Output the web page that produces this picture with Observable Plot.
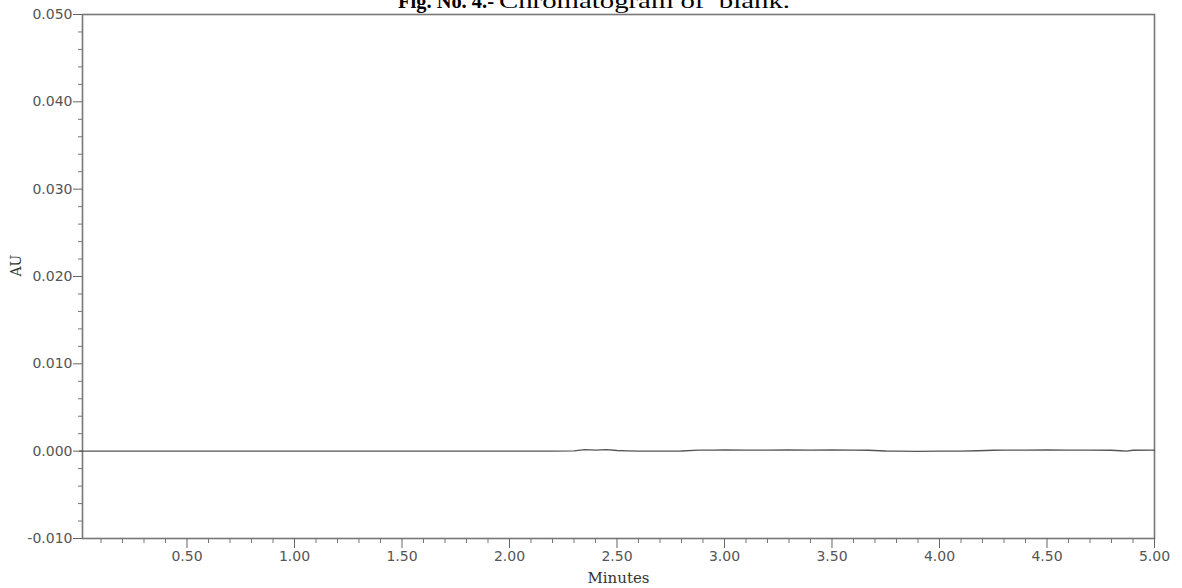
<!DOCTYPE html>
<html>
<head>
<meta charset="utf-8">
<script src="https://cdn.jsdelivr.net/npm/d3@7"></script>
<script src="https://cdn.jsdelivr.net/npm/@observablehq/plot@0.6"></script>
<style>
  html, body { margin: 0; padding: 0; background: #fff; overflow: hidden; }
  #wrap { position: relative; width: 1182px; height: 588px; }
  #title { position: absolute; left: 0; top: 0; z-index: 0; }
  #chart { position: absolute; left: 0; top: 0; z-index: 1; }
  #chart svg { background: transparent !important; }
</style>
</head>
<body>
<div id="wrap">
  <svg id="title" width="1182" height="20" xmlns="http://www.w3.org/2000/svg">
    <text x="398" y="8" font-family="Liberation Serif, Times New Roman, serif" font-size="22" font-weight="bold"
      textLength="96" lengthAdjust="spacingAndGlyphs" fill="#000">Fig. No. 4.-</text>
    <text x="499" y="8" font-family="Liberation Serif, Times New Roman, serif" font-size="21"
      textLength="291" lengthAdjust="spacingAndGlyphs" fill="#000" xml:space="preserve">Chromatogram of  blank.</text>
  </svg>
  <div id="chart"></div>
</div>
<script>
// Chromatogram of blank: retention time (minutes) vs absorbance (AU)
const times = [0.0, 0.1, 0.2, 0.3, 0.4, 0.5, 0.6, 0.7, 0.8, 0.9, 1.0, 1.1, 1.2, 1.3, 1.4, 1.5, 1.6, 1.7, 1.8, 1.9, 2.0,
  2.1, 2.2, 2.3, 2.35, 2.4, 2.45, 2.5, 2.55, 2.6, 2.7, 2.8, 2.88, 2.95, 3.0, 3.1, 3.2, 3.3, 3.4, 3.5, 3.6, 3.67,
  3.75, 3.8, 3.9, 4.0, 4.1, 4.18, 4.25, 4.3, 4.4, 4.5, 4.6, 4.7, 4.8, 4.84, 4.87, 4.9, 5.0];
const absorbance = [0, 0, 0, 0, 0, 0, 0, 0, 0, 0, 0, 0, 0, 0, 0, 0, 0, 0, 0, 0, 0,
  0, 0, 0.00003, 0.00018, 0.00012, 0.00018, 0.00008, 0.00003, 0, 0, 0.00002, 0.00012, 0.00012, 0.00013, 0.00012, 0.00012, 0.00013, 0.00012, 0.00013, 0.00012, 0.0001,
  0.00002, 0, -0.00002, 0, 0, 0.00004, 0.00011, 0.00012, 0.00012, 0.00013, 0.00012, 0.00012, 0.00011, 0.00004, 0.0, 0.0001, 0.00012];

const xMajorTicks = [0.5, 1.0, 1.5, 2.0, 2.5, 3.0, 3.5, 4.0, 4.5, 5.0];
const yMajorTicks = [-0.01, 0.0, 0.01, 0.02, 0.03, 0.04, 0.05];
const xLabel = "Minutes";
const yLabel = "AU";

const data = times.map((t, i) => ({t, v: absorbance[i]}));
const xMinorTicks = d3.range(1, 50).map(k => k / 10).filter(v => Math.abs(v * 2 - Math.round(v * 2)) > 1e-6);
const yMinorTicks = d3.range(-5, 26).map(k => k * 0.002).filter(v => Math.abs(v * 100 - Math.round(v * 100)) > 1e-6);

const tickFont = {fontFamily: "DejaVu Sans", fontSize: 14, fill: "#555"};
const blank = () => "";

const chart = Plot.plot({
  width: 1182,
  height: 588,
  marginTop: 14,
  marginRight: 28,
  marginBottom: 50,
  marginLeft: 82,
  style: {background: "transparent", fontFamily: "DejaVu Sans", fontSize: "14px", color: "#555"},
  x: {domain: [0.014, 5.0]},
  y: {domain: [-0.010, 0.050]},
  marks: [
    Plot.frame({stroke: "#777", strokeWidth: 1.6}),
    Plot.axisY({ticks: yMinorTicks, tickSize: 4, tickFormat: blank, label: null, stroke: "#777"}),
    Plot.axisX({ticks: xMinorTicks, tickSize: 5, tickFormat: blank, label: null, stroke: "#777"}),
    Plot.axisY({ticks: yMajorTicks, tickSize: 9, tickPadding: 1, tickFormat: d => d.toFixed(3), label: null,
      stroke: "#666", ...tickFont}),
    Plot.axisX({ticks: xMajorTicks, tickSize: 10, tickPadding: 3, tickFormat: d => d.toFixed(2), label: null,
      stroke: "#666", ...tickFont}),
    Plot.line(data, {x: "t", y: "v", stroke: "#555", strokeWidth: 1.4}),
    Plot.text([xLabel], {frameAnchor: "bottom", dy: 44, text: d => d,
      fontFamily: "DejaVu Serif", fontSize: 15, fill: "#333"}),
    Plot.text([yLabel], {frameAnchor: "left", dx: -66, rotate: -90, text: d => d,
      fontFamily: "DejaVu Serif", fontSize: 14, fill: "#333"})
  ]
});
document.getElementById("chart").appendChild(chart);
</script>
</body>
</html>
